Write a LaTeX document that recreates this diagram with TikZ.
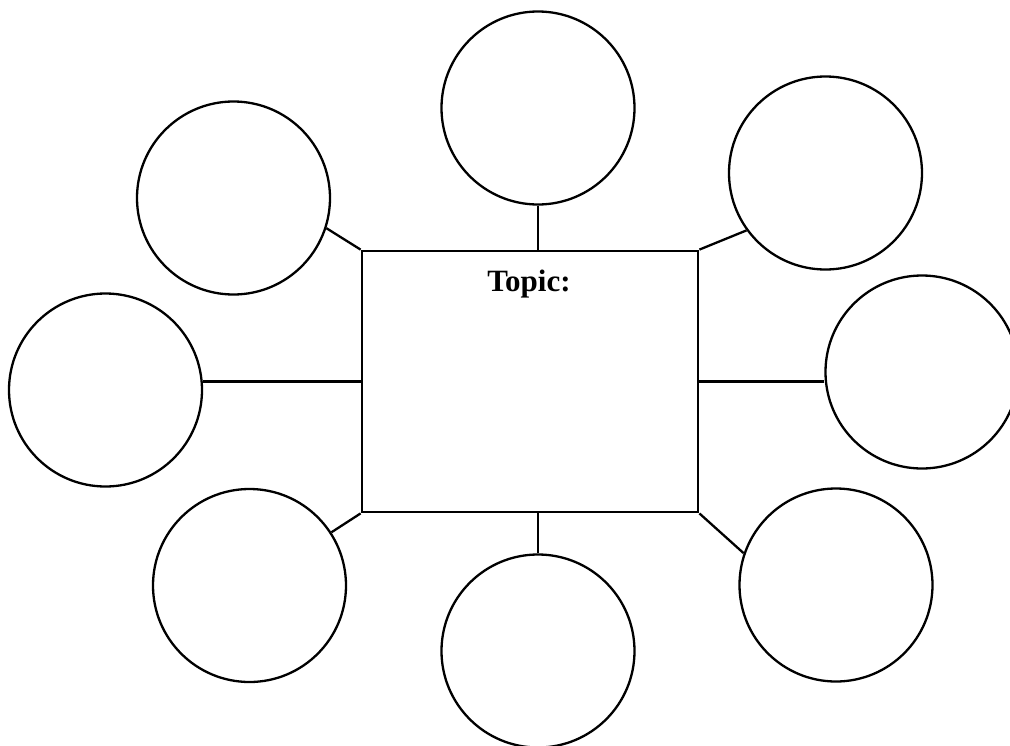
\documentclass[tikz,border=0pt]{standalone}
\usepackage{fontspec}
\setmainfont{Liberation Serif}
\begin{document}
\begin{tikzpicture}[x=1pt,y=-1pt,
  bubble/.style={circle,draw,line width=2.3pt,minimum size=193pt,inner sep=0pt},
  topicbox/.style={draw,line width=2.8pt,minimum width=336pt,minimum height=261pt,inner sep=0pt},
  link/.style={line width=2.3pt},
  title/.style={font=\fontsize{31}{36}\selectfont\bfseries,anchor=base,inner sep=0pt}]
\useasboundingbox (0,0) rectangle (1010,745);

% central topic box
\node[topicbox] (topic) at (530,381.5) {};
\node[title] (label) at (529,291) {Topic:};

% surrounding bubbles
\node[bubble] (t)  at (538,108) {};
\node[bubble] (tl) at (233.5,198) {};
\node[bubble] (tr) at (825.5,173) {};
\node[bubble] (l)  at (105.5,390) {};
\node[bubble] (r)  at (922,372) {};
\node[bubble] (bl) at (249.5,585.5) {};
\node[bubble] (b)  at (538,651) {};
\node[bubble] (br) at (836,585) {};

% spokes from the box to the bubbles
\draw[link] (t.south) -- (t.south |- topic.north);
\draw[link] (b.north) -- (b.north |- topic.south);
\draw[link] (topic.west) -- (topic.west -| l.east);
\draw[link] (topic.east) -- (topic.east -| r.west);
\draw[link] (topic.north west) -- (tl.-18);
\draw[link] (topic.north east) -- (tr.-144.5);
\draw[link] (topic.south west) -- (bl.33);
\draw[link] (topic.south east) -- (br.161);
\end{tikzpicture}
\end{document}
